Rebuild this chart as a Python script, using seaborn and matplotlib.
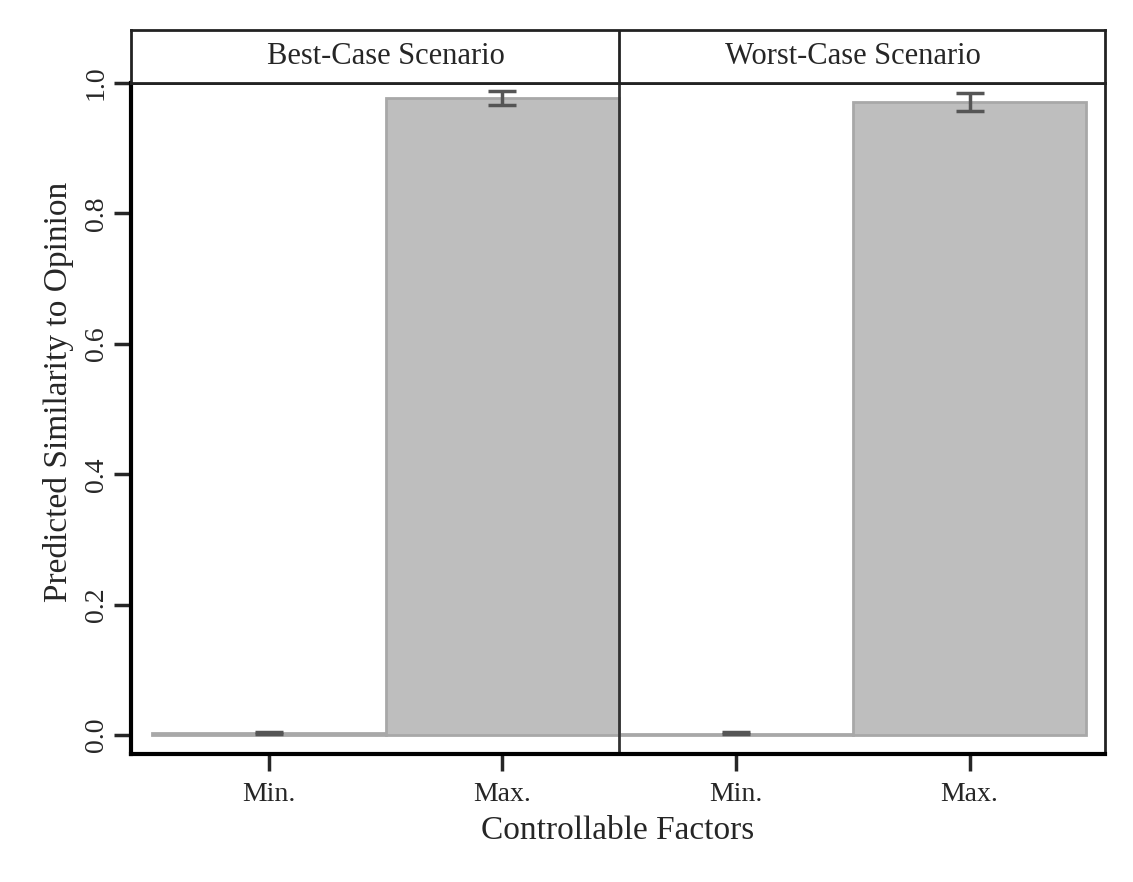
import seaborn as sns
import matplotlib.pyplot as plt
import pandas as pd

# data
scenarios = ['Best-Case Scenario', 'Worst-Case Scenario']
factors = ['Min.', 'Max.']
best_vals = [0.003, 0.977]
best_lo = [0.001, 0.966]
best_hi = [0.005, 0.988]
worst_vals = [0.002, 0.971]
worst_lo = [0.001, 0.957]
worst_hi = [0.004, 0.985]

rows = []
for sc, vals, lo, hi in [(scenarios[0], best_vals, best_lo, best_hi),
                         (scenarios[1], worst_vals, worst_lo, worst_hi)]:
    for f, v, l, h in zip(factors, vals, lo, hi):
        rows.append({'slot': sc + ' ' + f, 'scenario': sc, 'factor': f,
                     'value': v, 'lo': l, 'hi': h})
df = pd.DataFrame(rows)

sns.set_style("white")
plt.rcParams['font.family'] = ['Liberation Serif', 'DejaVu Serif']

fig = plt.figure(figsize=(11.33, 8.82), dpi=100)
ax = fig.add_axes([131 / 1133, 128 / 882, (1105 - 131) / 1133, (754 - 83) / 882])
strip = fig.add_axes([131 / 1133, 799 / 882, (1105 - 131) / 1133, 53 / 882])

sns.barplot(data=df, x='slot', y='value', order=list(df['slot']),
            color='#bebebe', saturation=1, width=1.0, errorbar=None,
            edgecolor='#a8a8a8', linewidth=2, ax=ax)
ax.errorbar(range(len(df)), df['value'],
            yerr=[df['value'] - df['lo'], df['hi'] - df['value']],
            fmt='none', ecolor='#555555', elinewidth=2.5, capsize=10, capthick=2.5)

ax.set_xlim(-0.59, 3.58)
ax.set_ylim(-0.029, 1.0)
ax.axvline(1.5, color='#333333', lw=2)
ax.set_yticks([0, 0.2, 0.4, 0.6, 0.8, 1.0])
ax.set_yticklabels(['0.0', '0.2', '0.4', '0.6', '0.8', '1.0'], rotation=90, va='center')
ax.set_xticks(range(len(df)))
ax.set_xticklabels(list(df['factor']))
ax.tick_params(axis='both', labelsize=20, length=12, width=2.5, direction='out',
               left=True, bottom=True)
ax.tick_params(axis='x', pad=8)
ax.tick_params(axis='y', pad=4)
ax.set_xlabel('Controllable Factors', fontsize=24, labelpad=6)
ax.set_ylabel('Predicted Similarity to Opinion', fontsize=24)
# centred on plot + strip header, like the reference
ax.yaxis.set_label_coords(-0.059, (754 - 392) / (754 - 83))
for s in ['left', 'bottom']:
    ax.spines[s].set_linewidth(3)
    ax.spines[s].set_color('black')
for s in ['top', 'right']:
    ax.spines[s].set_linewidth(2)
    ax.spines[s].set_color('#222222')

# strip header
strip.set_xlim(ax.get_xlim())
strip.set_ylim(0, 1)
strip.set_xticks([])
strip.set_yticks([])
for s in strip.spines.values():
    s.set_linewidth(2)
    s.set_color('#222222')
strip.axvline(1.5, color='#222222', lw=2)
strip.text(0.5, 0.5, scenarios[0], ha='center', va='center', fontsize=22)
strip.text(2.5, 0.5, scenarios[1], ha='center', va='center', fontsize=22)

plt.savefig('out.png', dpi=100)
